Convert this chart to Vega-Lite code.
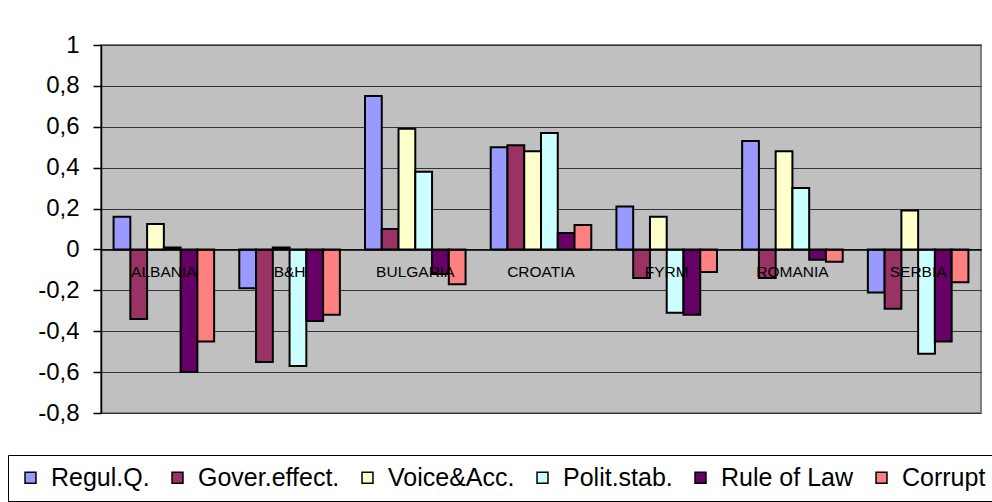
{
  "$schema": "https://vega.github.io/schema/vega-lite/v6.json",
  "width": 880,
  "height": 368,
  "autosize": {"type": "none"},
  "padding": {"left": 101, "top": 45, "right": 11, "bottom": 89},
  "background": "white",
  "config": {
    "locale": {"number": {"decimal": ",", "thousands": ".", "grouping": [3], "currency": ["", " €"], "minus": "-"}},
    "view": {"fill": "#C0C0C0", "stroke": "#808080", "strokeWidth": 2},
    "font": "Liberation Sans"
  },
  "data": {"values": [
    {"country": "ALBANIA", "indicator": "Regul.Q.", "value": 0.16},
    {"country": "ALBANIA", "indicator": "Gover.effect.", "value": -0.34},
    {"country": "ALBANIA", "indicator": "Voice&Acc.", "value": 0.125},
    {"country": "ALBANIA", "indicator": "Polit.stab.", "value": 0.01},
    {"country": "ALBANIA", "indicator": "Rule of Law", "value": -0.6},
    {"country": "ALBANIA", "indicator": "Corrupt", "value": -0.45},
    {"country": "B&H", "indicator": "Regul.Q.", "value": -0.19},
    {"country": "B&H", "indicator": "Gover.effect.", "value": -0.55},
    {"country": "B&H", "indicator": "Voice&Acc.", "value": 0.01},
    {"country": "B&H", "indicator": "Polit.stab.", "value": -0.57},
    {"country": "B&H", "indicator": "Rule of Law", "value": -0.35},
    {"country": "B&H", "indicator": "Corrupt", "value": -0.32},
    {"country": "BULGARIA", "indicator": "Regul.Q.", "value": 0.75},
    {"country": "BULGARIA", "indicator": "Gover.effect.", "value": 0.1},
    {"country": "BULGARIA", "indicator": "Voice&Acc.", "value": 0.59},
    {"country": "BULGARIA", "indicator": "Polit.stab.", "value": 0.38},
    {"country": "BULGARIA", "indicator": "Rule of Law", "value": -0.12},
    {"country": "BULGARIA", "indicator": "Corrupt", "value": -0.17},
    {"country": "CROATIA", "indicator": "Regul.Q.", "value": 0.5},
    {"country": "CROATIA", "indicator": "Gover.effect.", "value": 0.51},
    {"country": "CROATIA", "indicator": "Voice&Acc.", "value": 0.48},
    {"country": "CROATIA", "indicator": "Polit.stab.", "value": 0.57},
    {"country": "CROATIA", "indicator": "Rule of Law", "value": 0.08},
    {"country": "CROATIA", "indicator": "Corrupt", "value": 0.12},
    {"country": "FYRM", "indicator": "Regul.Q.", "value": 0.21},
    {"country": "FYRM", "indicator": "Gover.effect.", "value": -0.14},
    {"country": "FYRM", "indicator": "Voice&Acc.", "value": 0.16},
    {"country": "FYRM", "indicator": "Polit.stab.", "value": -0.31},
    {"country": "FYRM", "indicator": "Rule of Law", "value": -0.32},
    {"country": "FYRM", "indicator": "Corrupt", "value": -0.11},
    {"country": "ROMANIA", "indicator": "Regul.Q.", "value": 0.53},
    {"country": "ROMANIA", "indicator": "Gover.effect.", "value": -0.14},
    {"country": "ROMANIA", "indicator": "Voice&Acc.", "value": 0.48},
    {"country": "ROMANIA", "indicator": "Polit.stab.", "value": 0.3},
    {"country": "ROMANIA", "indicator": "Rule of Law", "value": -0.05},
    {"country": "ROMANIA", "indicator": "Corrupt", "value": -0.06},
    {"country": "SERBIA", "indicator": "Regul.Q.", "value": -0.21},
    {"country": "SERBIA", "indicator": "Gover.effect.", "value": -0.29},
    {"country": "SERBIA", "indicator": "Voice&Acc.", "value": 0.19},
    {"country": "SERBIA", "indicator": "Polit.stab.", "value": -0.51},
    {"country": "SERBIA", "indicator": "Rule of Law", "value": -0.45},
    {"country": "SERBIA", "indicator": "Corrupt", "value": -0.16}
  ]},
  "mark": {"type": "bar", "stroke": "black", "strokeWidth": 2},
  "encoding": {
    "x": {
      "field": "country", "type": "nominal", "sort": null,
      "scale": {"paddingInner": 0.2, "paddingOuter": 0.1},
      "axis": {"title": null, "orient": "bottom", "offset": -163.6, "ticks": false, "labelAngle": 0, "labelFontSize": 15.5, "labelColor": "black", "labelPadding": 15, "labelBaseline": "top", "domainColor": "black", "domainWidth": 1.5, "zindex": 1, "grid": false}
    },
    "xOffset": {
      "field": "indicator", "type": "nominal",
      "scale": {"domain": ["Regul.Q.", "Gover.effect.", "Voice&Acc.", "Polit.stab.", "Rule of Law", "Corrupt"], "paddingInner": 0, "paddingOuter": 0}
    },
    "y": {
      "field": "value", "type": "quantitative",
      "scale": {"domain": [-0.8, 1], "nice": false},
      "axis": {"title": null, "values": [-0.8, -0.6, -0.4, -0.2, 0, 0.2, 0.4, 0.6, 0.8, 1], "format": ".1~f", "labelFontSize": 24, "labelColor": "black", "labelPadding": 14, "tickSize": 8, "tickColor": "black", "tickWidth": 1.5, "domainColor": "black", "domainWidth": 1.5, "gridColor": "#333333", "gridWidth": 1, "gridOpacity": 1}
    },
    "color": {
      "field": "indicator", "type": "nominal",
      "scale": {"domain": ["Regul.Q.", "Gover.effect.", "Voice&Acc.", "Polit.stab.", "Rule of Law", "Corrupt"], "range": ["#9999FF", "#993366", "#FFFFCC", "#CCFFFF", "#660066", "#FF8080"]},
      "legend": {"title": null, "orient": "none", "legendX": -93, "legendY": 410, "direction": "horizontal", "symbolType": "square", "symbolSize": 120, "symbolStrokeColor": "black", "symbolStrokeWidth": 1.5, "symbolOpacity": 1, "labelFontSize": 25, "labelColor": "black", "labelOffset": 8, "columnPadding": 15, "padding": 10, "strokeColor": "black", "fillColor": "white", "labelLimit": 300}
    }
  }
}
